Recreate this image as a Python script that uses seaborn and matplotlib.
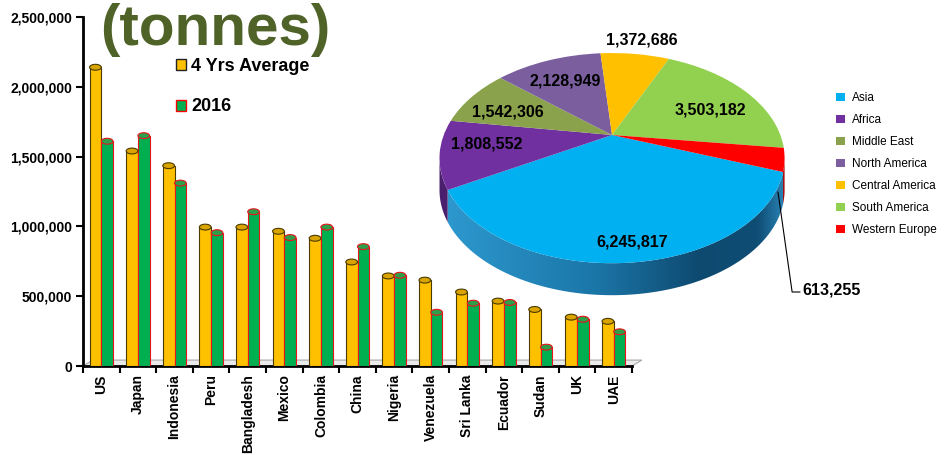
import numpy as np
import pandas as pd
import matplotlib
matplotlib.use("Agg")
import matplotlib.pyplot as plt
import seaborn as sns
from matplotlib.patches import Ellipse, Polygon, Patch
from matplotlib.colors import LinearSegmentedColormap
from matplotlib.ticker import StrMethodFormatter
from matplotlib.transforms import Transform

# ---- data -------------------------------------------------------------
countries = ["US", "Japan", "Indonesia", "Peru", "Bangladesh", "Mexico", "Colombia",
             "China", "Nigeria", "Venezuela", "Sri Lanka", "Ecuador", "Sudan", "UK", "UAE"]
avg_4yrs = [2140000, 1540000, 1435000, 995000, 995000, 965000, 915000,
            745000, 645000, 615000, 530000, 465000, 405000, 350000, 320000]
y2016 = [1610000, 1650000, 1310000, 955000, 1105000, 920000, 995000,
         855000, 650000, 385000, 450000, 455000, 135000, 335000, 245000]
series_names = ["4 Yrs Average", "2016"]

regions = ["Asia", "Africa", "Middle East", "North America",
           "Central America", "South America", "Western Europe"]
region_totals = [6245817, 1808552, 1542306, 2128949, 1372686, 3503182, 613255]

# ---- styling ----------------------------------------------------------
YELLOW, GREEN = "#FFC000", "#00B050"
YELLOW_EDGE, GREEN_EDGE = "#4A3C00", "#E8141C"
region_colors = ["#00B0F0", "#7030A0", "#8AA24C", "#7B5E9E", "#FFC000", "#92D050", "#FF0000"]
side_colors = [None, "#4A1F6E", "#5C6E30", "#52406C", "#B08600", "#5F8C33", "#A00000"]
TITLE_GREEN = "#4F6228"

sns.set_theme(style="white")
plt.rcParams["font.family"] = ["Liberation Sans", "DejaVu Sans"]
plt.rcParams["text.color"] = "black"

W, H = 944, 455
fig = plt.figure(figsize=(W / 100, H / 100), dpi=100)

# ---- bar chart --------------------------------------------------------
ax = fig.add_axes([83 / W, 89 / H, 549 / W, 349 / H])
df = pd.DataFrame({
    "country": countries * 2,
    "value": avg_4yrs + y2016,
    "series": [series_names[0]] * len(countries) + [series_names[1]] * len(countries),
})
sns.barplot(data=df, x="country", y="value", hue="series", palette=[YELLOW, GREEN],
            saturation=1, width=0.64, gap=0, ax=ax, legend=False, zorder=3)

cap_h = 42000
cap_styles = [("#D9A400", YELLOW_EDGE), ("#2E9E4A", GREEN_EDGE)]
for cont, edge, (cap_fc, cap_ec) in zip(ax.containers, [YELLOW_EDGE, GREEN_EDGE], cap_styles):
    for bar in cont:
        bar.set_edgecolor(edge)
        bar.set_linewidth(0.8)
        xc = bar.get_x() + bar.get_width() / 2
        ax.add_patch(Ellipse((xc, bar.get_height()), bar.get_width(), cap_h,
                             fc=cap_fc, ec=cap_ec, lw=0.8, zorder=4))

# floor of the 3-D plot area
ax.add_patch(Polygon([(0, 0), (0.018, 0.017), (1.018, 0.017), (1.0, 0)],
                     closed=True, transform=ax.transAxes, fc="#EBEBEB", ec="#A8A8A8",
                     lw=0.8, clip_on=False, zorder=2))

ax.set_xlim(-0.5, len(countries) - 0.5)
ax.set_ylim(0, 2500000)
ax.set_yticks(np.arange(0, 2500001, 500000))
ax.yaxis.set_major_formatter(StrMethodFormatter("{x:,.0f}"))
ax.set_xticks(np.arange(-0.5, len(countries), 1), minor=True)
ax.set_xlabel("")
ax.set_ylabel("")
for side in ("top", "right"):
    ax.spines[side].set_visible(False)
for side in ("left", "bottom"):
    ax.spines[side].set_color("black")
    ax.spines[side].set_linewidth(2)
ax.tick_params(axis="y", left=True, direction="out", length=5, width=1.5,
               color="black", labelsize=10, pad=3, labelcolor="black")
ax.tick_params(axis="x", which="major", bottom=True, length=0, pad=6,
               labelsize=10, labelrotation=90, labelcolor="black")
ax.tick_params(axis="x", which="minor", bottom=True, direction="out", length=5,
               width=1.5, color="black")
for lbl in ax.get_xticklabels() + ax.get_yticklabels():
    lbl.set_fontweight("bold")
ax.set_facecolor("none")

ax.legend([Patch(fc=YELLOW, ec="#222222", lw=1), Patch(fc=GREEN, ec="red", lw=1)],
          series_names, loc="upper left", bbox_to_anchor=(176 / W, 1 - 58 / H),
          bbox_transform=fig.transFigure, frameon=False, labelcolor="black",
          prop={"weight": "bold", "size": 13}, handlelength=0.55, handleheight=0.55,
          handletextpad=0.3, labelspacing=1.3, borderpad=0, borderaxespad=0)

fig.text(100 / W, 1 - 45 / H, "(tonnes)", fontsize=42, fontweight="bold",
         color=TITLE_GREEN, ha="left", va="baseline")


# ---- 3-D pie (perspective-tilted disc) ---------------------------------
class Tilt(Transform):
    """Perspective view of the pie plane: far side (y > 0) recedes."""
    input_dims = output_dims = 2

    def __init__(self, p):
        super().__init__()
        self.p = p

    def transform_non_affine(self, values):
        v = np.asarray(values, dtype=float)
        s = 1 + self.p * v[:, 1]
        return np.column_stack([v[:, 0] / s, v[:, 1] / s])


tilt = Tilt(0.22)

pax = fig.add_axes([420 / W, 135 / H, 410 / W, 310 / H])
wedges, _ = pax.pie(region_totals, colors=region_colors, startangle=-20,
                    counterclock=False, radius=1,
                    wedgeprops=dict(linewidth=0, zorder=3))
for w in wedges:
    w.set_transform(tilt + pax.transData)

depth = 0.32
side_cmap = LinearSegmentedColormap.from_list(
    "side", [(0.0, "#2E9AD0"), (0.45, "#1B76A8"), (0.75, "#0E4A70"),
             (0.92, "#0F4D74"), (1.0, "#2A86B8")])

# silhouette of the tilted rim: widest points where sin(t) = -p
t_edge = np.degrees(np.arcsin(tilt.p))
vis_lo, vis_hi = -180 + t_edge, -t_edge


def front_span(t1, t2):
    for shift in (-360, 0, 360):
        a, b = max(t1 + shift, vis_lo), min(t2 + shift, vis_hi)
        if b > a:
            return a, b
    return None


for w, scol in zip(wedges, side_colors):
    span = front_span(w.theta1, w.theta2)
    if span is None:
        continue
    th = np.radians(np.linspace(span[0], span[1], 80))
    rim = tilt.transform(np.column_stack([np.cos(th), np.sin(th)]))
    low = rim - [0, depth]
    poly = Polygon(np.vstack([rim, low[::-1]]), closed=True, zorder=2,
                   fc=scol if scol else "none", ec="none")
    pax.add_patch(poly)
    if scol is None:
        im = pax.imshow(np.linspace(0, 1, 256)[None, :], cmap=side_cmap,
                        extent=(-1.03, 1.03, -1.3 - depth, 0), aspect="auto",
                        interpolation="bicubic", zorder=2)
        im.set_clip_path(poly)

label_xy = [(0.119, -1.07), (-0.743, -0.09), (-0.618, 0.23), (-0.279, 0.54),
            (0.178, 0.95), (0.582, 0.25), (1.129, -1.55)]
for (lx, ly), val in zip(label_xy, region_totals):
    pax.text(lx, ly, f"{val:,}", fontsize=11.5, fontweight="bold", color="black",
             ha="left" if lx > 1 else "center", va="center", zorder=5)
pax.plot([0.986, 1.07, 1.117], [-0.57, -1.57, -1.57], color="black", lw=0.8, zorder=5)

pax.set_xlim(-1.141, 1.295)
pax.set_ylim(-1.85, 1.25)
pax.set_aspect("auto")
pax.axis("off")

pax.legend(wedges, regions, loc="upper left", bbox_to_anchor=(836 / W, 1 - 92 / H),
           bbox_transform=fig.transFigure, frameon=False, fontsize=8.5,
           labelcolor="black", handlelength=0.75, handleheight=0.75,
           handletextpad=0.6, labelspacing=0.85, borderpad=0, borderaxespad=0)

fig.savefig("out.png", dpi=100)
